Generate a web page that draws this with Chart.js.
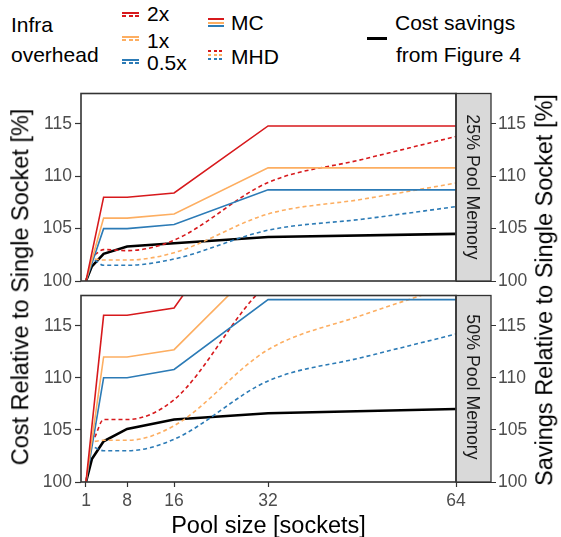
<!DOCTYPE html>
<html>
<head>
<meta charset="utf-8">
<script src="https://cdn.jsdelivr.net/npm/chart.js@4/dist/chart.umd.min.js"></script>
<style>
  body { margin: 0; background: #fff; overflow: hidden; }
  #wrap { position: relative; width: 561px; height: 537px; background: #fff;
          font-family: 'Liberation Sans', Arial, sans-serif; color: #000; }
  canvas { position: absolute; left: 0; }
  .t { position: absolute; white-space: nowrap; line-height: 1; }
  .lg { font-size: 21px; }
  .rot { position: absolute; white-space: nowrap; line-height: 1; text-align: center; }
  .key { position: absolute; height: 2px; }
  .dot { position: absolute; height: 2px; }
</style>
</head>
<body>
<div id="wrap">
  <!-- legend -->
  <div class="t lg" style="left:11px; top:14px;">Infra</div>
  <div class="t lg" style="left:11px; top:44px;">overhead</div>

  <div class="key" style="left:122px; top:12px; width:17px; background:#d7191c;"></div>
  <div class="dot" style="left:122px; top:15px; width:17px; background:repeating-linear-gradient(90deg,#d7191c 0 4px,transparent 4px 6.5px);"></div>
  <div class="t lg" style="left:147px; top:3px;">2x</div>

  <div class="key" style="left:122px; top:36px; width:17px; background:#fdae61;"></div>
  <div class="dot" style="left:122px; top:39px; width:17px; background:repeating-linear-gradient(90deg,#fdae61 0 4px,transparent 4px 6.5px);"></div>
  <div class="t lg" style="left:147px; top:29.5px;">1x</div>

  <div class="key" style="left:122px; top:59px; width:17px; background:#2c7bb6;"></div>
  <div class="dot" style="left:122px; top:62px; width:17px; background:repeating-linear-gradient(90deg,#2c7bb6 0 4px,transparent 4px 6.5px);"></div>
  <div class="t lg" style="left:147px; top:51.5px;">0.5x</div>

  <div class="key" style="left:208px; top:18px; width:16px; background:#d7191c;"></div>
  <div class="key" style="left:208px; top:21.5px; width:16px; background:#fdae61;"></div>
  <div class="key" style="left:208px; top:25px; width:16px; background:#2c7bb6;"></div>
  <div class="t lg" style="left:231px; top:12.3px;">MC</div>

  <div class="dot" style="left:208px; top:49.5px; width:16px; background:repeating-linear-gradient(90deg,#d7191c 0 3px,transparent 3px 5.5px);"></div>
  <div class="dot" style="left:208px; top:53.5px; width:16px; background:repeating-linear-gradient(90deg,#fdae61 0 3px,transparent 3px 5.5px);"></div>
  <div class="dot" style="left:208px; top:57.5px; width:16px; background:repeating-linear-gradient(90deg,#2c7bb6 0 3px,transparent 3px 5.5px);"></div>
  <div class="t lg" style="left:231px; top:45.6px;">MHD</div>

  <div class="key" style="left:367px; top:37px; width:20px; height:2.5px; background:#000;"></div>
  <div class="t lg" style="left:395px; top:12.3px;">Cost savings</div>
  <div class="t lg" style="left:396px; top:44px;">from Figure 4</div>

  <canvas id="top" width="561" height="215" style="top:80px;"></canvas>
  <canvas id="bottom" width="561" height="250" style="top:282px;"></canvas>

  <!-- strips and axis titles -->
  <div class="rot" style="left:471.5px; top:186.5px; font-size:17.8px; color:#1a1a1a; transform:translate(-50%,-50%) rotate(90deg);">25% Pool Memory</div>
  <div class="rot" style="left:471.5px; top:387px; font-size:17.8px; color:#1a1a1a; transform:translate(-50%,-50%) rotate(90deg);">50% Pool Memory</div>
  <div class="rot" style="left:21px; top:287px; font-size:23.5px; transform:translate(-50%,-50%) rotate(-90deg);">Cost Relative to Single Socket [%]</div>
  <div class="rot" style="left:545px; top:290px; font-size:23.5px; transform:translate(-50%,-50%) rotate(-90deg);">Savings Relative to Single Socket [%]</div>
  <div class="t" style="left:268.5px; top:513.5px; font-size:23.5px; transform:translateX(-50%);">Pool size [sockets]</div>
</div>

<script>
// pool sizes (sockets)
const mcX = [1, 4, 8, 16, 32, 64];
const mhdX = [2.5, 4, 8, 16, 32, 48, 64];
const savX = [1, 2, 4, 8, 16, 32, 64];

// 25% pool memory
const mc2x_25 = [100, 108, 108, 108.4, 114.8, 114.8];
const mc1x_25 = [100, 106, 106, 106.4, 110.8, 110.8];
const mc05x_25 = [100, 105, 105, 105.4, 108.7, 108.7];
const mhd2x_25 = [102.5, 103.0, 102.9, 103.9, 109.4, 111.6, 113.8];
const mhd1x_25 = [102.1, 102.0, 102.0, 102.7, 106.4, 107.8, 109.35];
const mhd05x_25 = [102.0, 101.5, 101.5, 102.1, 104.85, 105.9, 107.1];
const savings_25 = [100, 101.4, 102.6, 103.3, 103.6, 104.2, 104.5];

// 50% pool memory
const mc2x_50 = [100, 116, 116, 116.7, 129.5, 129.5];
const mc1x_50 = [100, 112, 112, 112.7, 121.7, 121.7];
const mc05x_50 = [100, 110, 110, 110.8, 117.5, 117.5];
const mhd2x_50 = [104.3, 106.0, 106.0, 107.9, 119.0, 122.0, 125.0];
const mhd1x_50 = [103.9, 104.0, 104.0, 105.4, 112.7, 116.0, 119.0];
const mhd05x_50 = [103.3, 103.0, 103.0, 104.1, 109.7, 111.95, 114.2];
const savings_50 = [100, 102.2, 103.9, 105.1, 106.0, 106.6, 107.0];

const xTicks = [1, 8, 16, 32, 64];
const yTicks = [100, 105, 110, 115];

const RED = "#d7191c", ORANGE = "#fdae61", BLUE = "#2c7bb6";

Chart.defaults.font.family = "'Liberation Sans', Arial, sans-serif";

function pts(xs, ys) {
  return xs.map((x, i) => ({ x: x, y: ys[i] }));
}

function solid(xs, ys, color) {
  return { data: pts(xs, ys), borderColor: color, borderWidth: 1.6, tension: 0 };
}
function dotted(xs, ys, color) {
  return { data: pts(xs, ys), borderColor: color, borderWidth: 1.6, borderDash: [4, 3],
           cubicInterpolationMode: "monotone" };
}
function black(xs, ys) {
  return { data: pts(xs, ys), borderColor: "#000", borderWidth: 2.6, tension: 0 };
}

// panel border + grey facet strip
const panelFrame = {
  id: "panelFrame",
  afterDraw(chart) {
    const a = chart.chartArea;
    const ctx = chart.ctx;
    ctx.save();
    ctx.fillStyle = "#d9d9d9";
    ctx.fillRect(a.right, a.top, 35, a.bottom - a.top);
    ctx.strokeStyle = "#333";
    ctx.lineWidth = 1.3;
    ctx.strokeRect(a.right, a.top, 35, a.bottom - a.top);
    ctx.lineWidth = 1.6;
    ctx.strokeRect(a.left, a.top, a.right - a.left, a.bottom - a.top);
    ctx.restore();
  }
};

function yAxis(pos, width, tickLen, pad) {
  return {
    position: pos, min: 100, max: 117.9,
    afterBuildTicks: s => { s.ticks = yTicks.map(v => ({ value: v })); },
    afterFit: s => { s.width = width; },
    grid: { drawOnChartArea: false, tickLength: tickLen, tickColor: "#333", tickWidth: 1.2 },
    border: { display: false },
    ticks: { color: "#4d4d4d", font: { size: 17.5 }, padding: pad }
  };
}

function makePanel(id, datasets, showX, padding) {
  new Chart(document.getElementById(id), {
    type: "line",
    data: { datasets: datasets },
    options: {
      responsive: false,
      animation: false,
      layout: { padding: padding },
      plugins: { legend: { display: false }, tooltip: { enabled: false } },
      elements: { point: { radius: 0 } },
      scales: {
        x: {
          type: "linear", min: 0.15, max: 64, display: showX,
          afterBuildTicks: s => { s.ticks = xTicks.map(v => ({ value: v })); },
          afterFit: s => { s.height = showX ? 30 : 0; },
          grid: { drawOnChartArea: false, tickLength: 5, tickColor: "#333", tickWidth: 1.2 },
          border: { display: false },
          ticks: { color: "#4d4d4d", font: { size: 17.5 }, padding: 4, maxRotation: 0, autoSkip: false }
        },
        y: yAxis("left", 81, 6, 3),
        y2: yAxis("right", 105, 40, 2)
      }
    },
    plugins: [panelFrame]
  });
}

makePanel("top", [
  solid(mcX, mc2x_25, RED), solid(mcX, mc1x_25, ORANGE), solid(mcX, mc05x_25, BLUE),
  dotted(mhdX, mhd2x_25, RED), dotted(mhdX, mhd1x_25, ORANGE), dotted(mhdX, mhd05x_25, BLUE),
  black(savX, savings_25)
], false, { top: 12, bottom: 14, left: 0, right: 0 });

makePanel("bottom", [
  solid(mcX, mc2x_50, RED), solid(mcX, mc1x_50, ORANGE), solid(mcX, mc05x_50, BLUE),
  dotted(mhdX, mhd2x_50, RED), dotted(mhdX, mhd1x_50, ORANGE), dotted(mhdX, mhd05x_50, BLUE),
  black(savX, savings_50)
], true, { top: 10.5, bottom: 20, left: 0, right: 0 });
</script>
</body>
</html>
